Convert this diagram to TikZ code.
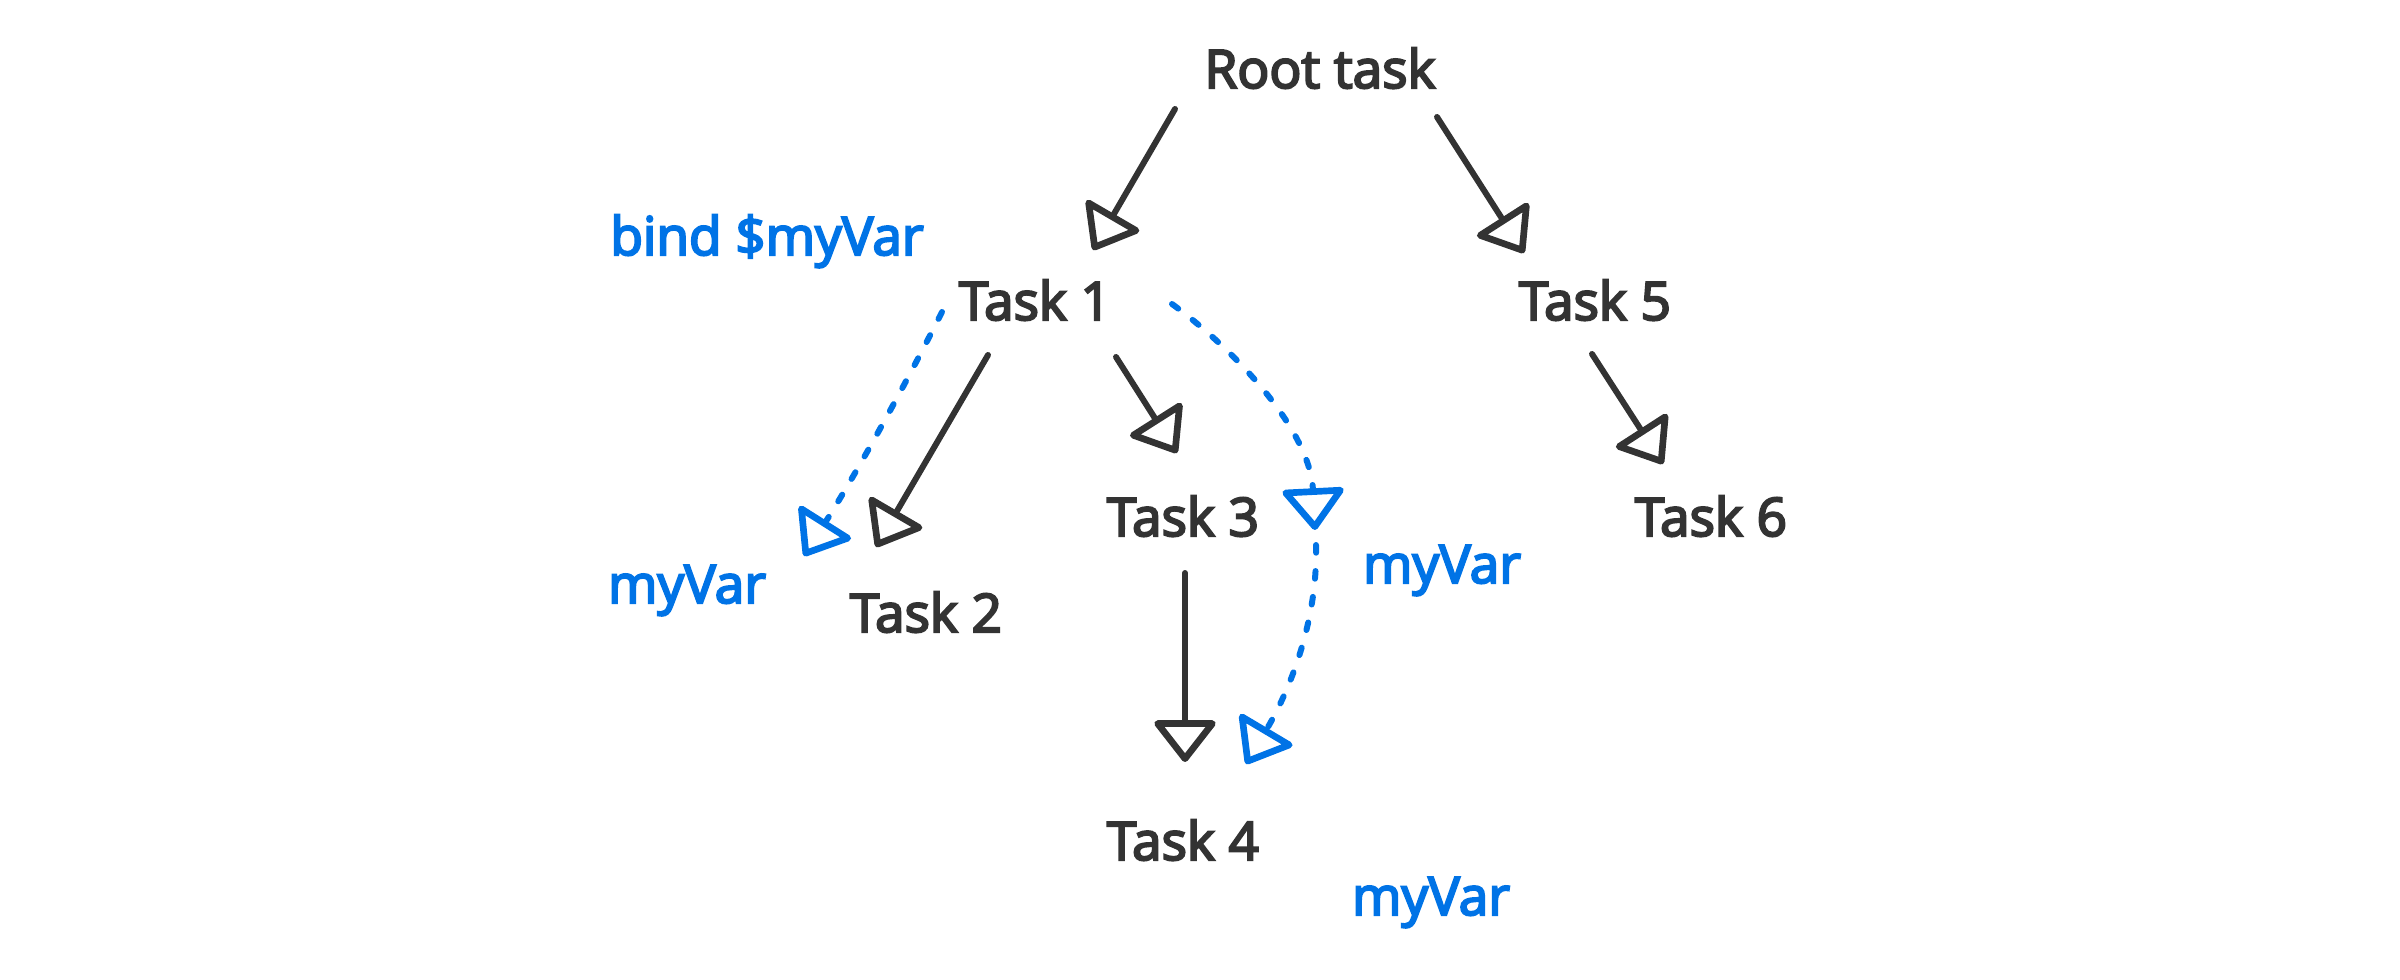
\documentclass[tikz,border=0pt]{standalone}
\usepackage{fontspec}
\setmainfont{Open Sans}[FakeBold=4]
\usetikzlibrary{arrows.meta}
\definecolor{ink}{HTML}{333333}
\definecolor{varblue}{HTML}{0073E6}
\tikzset{
  lbl/.style={inner sep=0pt, anchor=base, font=\fontsize{15.1pt}{18pt}\selectfont},
  task/.style={lbl, text=ink},
  var/.style={lbl, text=varblue},
  flow/.style={draw=ink, line width=1.7pt, line cap=round, line join=round,
    -{Triangle[open, round, length=12.5pt, width=19pt, line width=1.9pt]}},
  pass/.style={draw=varblue, line width=1.7pt, line cap=round, line join=round,
    dash pattern=on 2.2pt off 5.2pt,
    -{Triangle[open, round, length=12.5pt, width=19pt, line width=1.9pt, sep=0pt]}},
}
\begin{document}
\begin{tikzpicture}[x=0.01cm, y=-0.01cm]
\useasboundingbox (0,0) rectangle (2400,980);
% nodes
\node[task] (root) at (1320,88) {Root task};
\node[task] (t1) at (1035,320) {Task 1};
\node[task] (t5) at (1595,320) {Task 5};
\node[task] (t2) at (926,632) {Task 2};
\node[task] (t3) at (1183,536) {Task 3};
\node[task] (t6) at (1711,536) {Task 6};
\node[task] (t4) at (1183,860) {Task 4};
\node[var] (bind) at (767,255) {bind \$myVar};
\node[var] (v2) at (687,603) {myVar};
\node[var] (v3) at (1442,583) {myVar};
\node[var] (v4) at (1431,915) {myVar};
% connector end points
\coordinate (rootA) at (1175,109);
\coordinate (t1in) at (1093,250);
\coordinate (rootB) at (1437,117);
\coordinate (t5in) at (1524,253);
\coordinate (t5out) at (1592,354);
\coordinate (t6in) at (1663,464);
\coordinate (t1A) at (988,355);
\coordinate (t2in) at (876,547);
\coordinate (t1B) at (1116,357);
\coordinate (t3in) at (1177,453);
\coordinate (t3out) at (1185,573);
\coordinate (t4in) at (1185,762);
\coordinate (t1L) at (942,312);
\coordinate (v2in) at (804,556);
\coordinate (t1R) at (1172,304);
\coordinate (v3in) at (1315,530);
\coordinate (v3out) at (1316,545);
\coordinate (v4in) at (1246,764);
% connectors
\draw[flow] (rootA) -- (t1in);
\draw[flow] (rootB) -- (t5in);
\draw[flow] (t5out) -- (t6in);
\draw[flow] (t1A) -- (t2in);
\draw[flow] (t1B) -- (t3in);
\draw[flow] (t3out) -- (t4in);
\draw[pass] (t1L) .. controls (900,395) and (854,477) .. (v2in);
\draw[pass] (t1R) .. controls (1235,350) and (1310,430) .. (v3in);
\draw[pass] (v3out) .. controls (1318,620) and (1290,690) .. (v4in);
\end{tikzpicture}
\end{document}
